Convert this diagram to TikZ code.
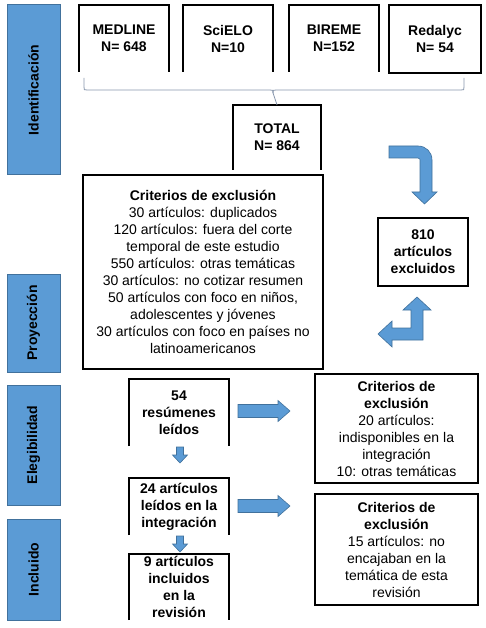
\documentclass[tikz,border=0pt]{standalone}
\usepackage{fontspec}
\setmainfont{Liberation Sans}
\usetikzlibrary{calc}

\definecolor{barblue}{RGB}{91,155,213}
\definecolor{baredge}{RGB}{65,113,156}
\definecolor{bracegray}{RGB}{135,150,172}

\tikzset{
	txt/.style={font=\fontsize{14}{17}\selectfont, align=center, inner sep=0pt, outer sep=0pt},
	boldtxt/.style={txt, font=\fontsize{14}{17}\selectfont\bfseries},
	stage/.style={boldtxt, fill=barblue, draw=baredge, line width=1pt, rotate=90, minimum height=53pt},
	boxline/.style={line width=1.2pt},
	blockarrow/.style={fill=barblue, draw=baredge, line width=0.6pt},
	bracket/.style={draw=bracegray, line width=0.8pt}
}

\begin{document}
\begin{tikzpicture}[x=1pt,y=-1pt]
	\useasboundingbox (0,0) rectangle (485,628);
	
	%stage bars
	\node[stage, minimum width=170pt] (ident) at (33.5,90)    {Identificación};
	\node[stage, minimum width=98pt]  (proy)  at (33.5,323)   {Proyección};
	\node[stage, minimum width=120pt] (eleg)  at (33.5,445)   {Elegibilidad};
	\node[stage, minimum width=101pt] (incl)  at (33.5,569.5) {Incluido};
	
	%databases - nodes
	\node[boldtxt, minimum width=90pt, minimum height=67pt] (medline) at (124,38.5) {MEDLINE\\N= 648};
	\node[boldtxt, minimum width=90pt, minimum height=67pt] (scielo)  at (228,38.5) {SciELO\\N=10};
	\node[boldtxt, minimum width=90pt, minimum height=67pt] (bireme)  at (334,38.5) {BIREME\\N=152};
	\node[boldtxt, minimum width=92pt, minimum height=68pt, draw, boxline] (redalyc) at (435,39) {Redalyc\\N= 54};
	
		%databases - lines
		\draw[boxline] (medline.south west) |- (medline.north east) -- (medline.south east);
		\draw[boxline] (scielo.south west)  |- (scielo.north east)  -- (scielo.south east);
		\draw[boxline] (bireme.south west)  |- (bireme.north east)  -- (bireme.south east);
	
	%total
	\node[boldtxt, minimum width=88pt, minimum height=65pt] (total) at (277,137.5) {TOTAL\\N= 864};
	\draw[boxline] (total.south west) |- (total.north east) -- (total.south east);
	
		%bracket
		\draw[bracket] (84,78) -- (84,87) .. controls (84,90) .. (87,90) -- (270,90) .. controls (273,90) .. (273,93);
		\draw[bracket] (273,93) .. controls (273,90) .. (276,90) -- (461,90) .. controls (464,90) .. (464,87) -- (464,78);
		\draw[bracket] (273,93) -- (total.north);
	
	%screening criteria
	\node[txt, draw, boxline, minimum width=240pt, minimum height=194pt] (crit) at (203,272)
		{\textbf{Criterios de exclusión}\\
		30 artículos: duplicados\\
		120 artículos: fuera del corte\\
		temporal de este estudio\\
		550 artículos: otras temáticas\\
		30 artículos: no cotizar resumen\\
		50 artículos con foco en niños,\\
		adolescentes y jóvenes\\
		30 artículos con foco en países no\\
		latinoamericanos};
	
	%excluded
	\node[boldtxt, draw, boxline, minimum width=90pt, minimum height=68pt] (excl) at (423,252) {810\\artículos\\excluidos};
	
		%bent arrows
		\draw[blockarrow] (389,146) -- (418,146) .. controls (426,146) and (432,152) .. (432,160)
			-- (432,192) -- (437,192) -- (424.5,204) -- (412,192) -- (420,192) -- (420,160)
			.. controls (420,159) .. (418,158) -- (389,158) -- cycle;
		\draw[blockarrow] (417,297) -- (431,310) -- (423,310) -- (423,340) -- (392,340) -- (392,347)
			-- (378,334) -- (392,321) -- (392,328) -- (411,328) -- (411,310) -- (403,310) -- cycle;
	
	%eligibility - nodes
	\node[boldtxt, minimum width=100pt, minimum height=67pt] (res)   at (179,412.5) {54\\resúmenes\\leídos};
	\node[boldtxt, minimum width=100pt, minimum height=57pt] (integ) at (179,506.5) {24 artículos\\leídos en la\\integración};
	\node[boldtxt, minimum width=100pt, minimum height=66pt] (rev)   at (179,587)   {9 artículos\\incluidos\\en la\\revisión};
	
		%eligibility - lines
		\draw[boxline] (res.south west)   |- (res.north east)   -- (res.south east);
		\draw[boxline] (integ.south west) |- (integ.north east) -- (integ.south east);
		\draw[boxline] (rev.south west)   |- (rev.north east)   -- (rev.south east);
	
	%exclusion boxes
	\node[txt, draw, boxline, minimum width=163pt, minimum height=109pt] (critA) at (396.5,428.5)
		{\textbf{Criterios de}\\\textbf{exclusión}\\20 artículos:\\indisponibles en la\\integración\\10: otras temáticas};
	\node[txt, draw, boxline, minimum width=163pt, minimum height=111pt] (critB) at (396.5,549.5)
		{\textbf{Criterios de}\\\textbf{exclusión}\\15 artículos: no\\encajaban en la\\temática de esta\\revisión};
	
	%block arrows
	\foreach \y in {447,536}
		\draw[blockarrow, shift={(180,\y)}] (-3.5,0) -- (3.5,0) -- (3.5,8) -- (7.5,8) -- (0,16) -- (-7.5,8) -- (-3.5,8) -- cycle;
	\foreach \y in {411,506}
		\draw[blockarrow, shift={(238,\y)}] (0,-6.5) -- (40,-6.5) -- (40,-10.5) -- (52,0) -- (40,10.5) -- (40,6.5) -- (0,6.5) -- cycle;
\end{tikzpicture}
\end{document}
